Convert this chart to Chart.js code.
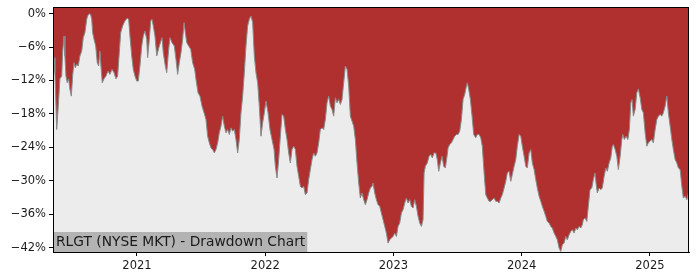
<!DOCTYPE html>
<html>
<head>
<meta charset="utf-8">
<script src="https://cdn.jsdelivr.net/npm/chart.js@4.4.0/dist/chart.umd.min.js"></script>
<style>
  html, body { margin: 0; padding: 0; background: #fff; }
  #wrap { width: 700px; height: 280px; position: relative; }
</style>
</head>
<body>
<div id="wrap"><canvas id="ddChart"></canvas></div>
<script>
// dates as decimal years, drawdown in percent
const dates = [
  2020.353, 2020.360, 2020.374, 2020.386, 2020.399, 2020.413, 2020.420, 2020.431, 2020.438, 2020.446,
  2020.456, 2020.467, 2020.477, 2020.488, 2020.498, 2020.509, 2020.519, 2020.530, 2020.542, 2020.555,
  2020.569, 2020.581, 2020.594, 2020.608, 2020.615, 2020.628, 2020.639, 2020.647, 2020.654, 2020.665,
  2020.678, 2020.690, 2020.701, 2020.711, 2020.719, 2020.729, 2020.743, 2020.758, 2020.774, 2020.789,
  2020.805, 2020.821, 2020.836, 2020.849, 2020.862, 2020.873, 2020.888, 2020.906, 2020.924, 2020.935,
  2020.945, 2020.959, 2020.971, 2020.984, 2020.998, 2021.010, 2021.023, 2021.037, 2021.049, 2021.062,
  2021.076, 2021.083, 2021.094, 2021.107, 2021.117, 2021.127, 2021.140, 2021.154, 2021.174, 2021.195,
  2021.205, 2021.221, 2021.232, 2021.247, 2021.257, 2021.273, 2021.291, 2021.304, 2021.317, 2021.330,
  2021.343, 2021.356, 2021.367, 2021.377, 2021.388, 2021.403, 2021.419, 2021.434, 2021.450, 2021.460,
  2021.476, 2021.491, 2021.507, 2021.523, 2021.538, 2021.551, 2021.564, 2021.577, 2021.590, 2021.603,
  2021.616, 2021.629, 2021.642, 2021.655, 2021.668, 2021.681, 2021.694, 2021.707, 2021.720, 2021.733,
  2021.746, 2021.759, 2021.772, 2021.785, 2021.798, 2021.811, 2021.824, 2021.837, 2021.850, 2021.863,
  2021.876, 2021.889, 2021.902, 2021.915, 2021.928, 2021.941, 2021.954, 2021.967, 2021.980, 2021.993,
  2022.006, 2022.022, 2022.037, 2022.053, 2022.069, 2022.079, 2022.092, 2022.105, 2022.118, 2022.131,
  2022.144, 2022.157, 2022.170, 2022.183, 2022.196, 2022.209, 2022.222, 2022.235, 2022.248, 2022.261,
  2022.274, 2022.287, 2022.300, 2022.313, 2022.326, 2022.339, 2022.352, 2022.365, 2022.378, 2022.391,
  2022.404, 2022.417, 2022.430, 2022.443, 2022.456, 2022.469, 2022.482, 2022.495, 2022.508, 2022.521,
  2022.534, 2022.547, 2022.560, 2022.573, 2022.586, 2022.599, 2022.612, 2022.625, 2022.638, 2022.651,
  2022.664, 2022.677, 2022.690, 2022.703, 2022.716, 2022.729, 2022.742, 2022.755, 2022.768, 2022.781,
  2022.794, 2022.807, 2022.820, 2022.833, 2022.841, 2022.854, 2022.867, 2022.880, 2022.893, 2022.906,
  2022.919, 2022.932, 2022.945, 2022.958, 2022.971, 2022.984, 2022.997, 2023.010, 2023.023, 2023.036,
  2023.049, 2023.062, 2023.075, 2023.088, 2023.101, 2023.114, 2023.127, 2023.140, 2023.153, 2023.166,
  2023.179, 2023.192, 2023.205, 2023.218, 2023.231, 2023.239, 2023.249, 2023.264, 2023.278, 2023.291,
  2023.303, 2023.317, 2023.330, 2023.342, 2023.353, 2023.366, 2023.379, 2023.392, 2023.405, 2023.418,
  2023.426, 2023.439, 2023.452, 2023.465, 2023.478, 2023.491, 2023.504, 2023.517, 2023.530, 2023.543,
  2023.556, 2023.569, 2023.576, 2023.587, 2023.600, 2023.613, 2023.626, 2023.642, 2023.654, 2023.668,
  2023.681, 2023.693, 2023.707, 2023.720, 2023.732, 2023.746, 2023.759, 2023.771, 2023.785, 2023.798,
  2023.810, 2023.824, 2023.837, 2023.849, 2023.863, 2023.876, 2023.888, 2023.902, 2023.915, 2023.927,
  2023.941, 2023.954, 2023.966, 2023.980, 2023.993, 2024.005, 2024.019, 2024.032, 2024.044, 2024.058,
  2024.071, 2024.083, 2024.097, 2024.110, 2024.122, 2024.136, 2024.149, 2024.161, 2024.175, 2024.188,
  2024.200, 2024.214, 2024.227, 2024.239, 2024.253, 2024.266, 2024.278, 2024.292, 2024.305, 2024.317,
  2024.331, 2024.344, 2024.356, 2024.370, 2024.383, 2024.395, 2024.409, 2024.422, 2024.434, 2024.448,
  2024.461, 2024.473, 2024.481, 2024.494, 2024.508, 2024.520, 2024.533, 2024.547, 2024.559, 2024.572,
  2024.580, 2024.590, 2024.604, 2024.617, 2024.629, 2024.643, 2024.656, 2024.668, 2024.682, 2024.695,
  2024.707, 2024.715, 2024.729, 2024.742, 2024.754, 2024.768, 2024.781, 2024.789, 2024.801, 2024.814,
  2024.828, 2024.840, 2024.851, 2024.861, 2024.871, 2024.885, 2024.898, 2024.910, 2024.924, 2024.937,
  2024.949, 2024.963, 2024.976, 2024.988, 2025.002, 2025.015, 2025.027, 2025.041, 2025.054, 2025.066,
  2025.080, 2025.093, 2025.105, 2025.119, 2025.132, 2025.144, 2025.158, 2025.171, 2025.183, 2025.197,
  2025.210, 2025.222, 2025.236, 2025.249, 2025.261, 2025.275, 2025.288, 2025.300
];

const drawdown = [
  -7.9, -10.6, -20.8, -16.6, -11.7, -11.2, -7.0, -4.0, -7.6, -11.2,
  -12.4, -11.7, -13.6, -14.8, -11.2, -8.8, -9.7, -9.1, -9.4, -7.6,
  -6.7, -4.3, -3.4, -1.0, -0.4, 0.0, -0.2, -1.0, -3.4, -4.6,
  -5.8, -8.8, -9.4, -6.7, -9.4, -12.4, -11.7, -11.2, -10.3, -10.9,
  -10.0, -10.6, -11.7, -11.2, -7.0, -3.4, -2.2, -1.3, -0.8, -1.0,
  -4.0, -7.6, -10.0, -11.2, -12.1, -12.1, -9.4, -5.8, -4.0, -3.1,
  -4.6, -7.9, -5.2, -1.3, -1.0, -2.2, -4.0, -7.6, -5.8, -4.3,
  -7.0, -9.4, -10.6, -6.4, -4.3, -5.2, -5.8, -8.2, -10.9, -8.8,
  -7.0, -4.6, -1.6, -3.4, -5.2, -5.8, -6.4, -8.8, -10.0, -11.8,
  -14.2, -14.8, -16.6, -17.8, -19.0, -22.0, -23.2, -24.1, -24.4, -25.0,
  -24.4, -23.2, -21.4, -20.2, -18.4, -20.2, -21.4, -20.8, -21.7, -20.5,
  -21.1, -20.8, -22.6, -25.0, -22.6, -17.8, -14.8, -10.6, -5.8, -2.2,
  -1.0, -0.4, -1.6, -7.6, -10.6, -12.4, -16.6, -22.0, -19.6, -17.8,
  -15.7, -17.8, -20.8, -22.6, -24.4, -27.4, -29.5, -26.2, -22.0, -18.1,
  -18.4, -20.8, -22.6, -25.0, -26.8, -24.4, -23.8, -24.4, -27.4, -29.2,
  -31.0, -31.3, -31.0, -32.5, -32.2, -29.8, -28.0, -26.2, -25.0, -25.6,
  -25.0, -23.2, -20.8, -20.5, -20.8, -19.0, -16.0, -14.8, -16.6, -17.2,
  -18.4, -15.1, -16.0, -15.4, -16.3, -15.4, -12.4, -9.4, -10.0, -13.0,
  -18.4, -19.3, -20.2, -22.6, -26.8, -30.4, -33.1, -32.2, -33.4, -34.3,
  -33.4, -32.2, -31.3, -31.0, -30.4, -32.2, -33.4, -34.3, -34.6, -35.8,
  -37.0, -38.2, -39.4, -41.2, -40.6, -40.3, -40.0, -39.4, -40.0, -38.2,
  -37.6, -35.8, -35.2, -34.0, -33.1, -34.0, -33.4, -34.6, -34.9, -33.4,
  -34.6, -36.4, -37.6, -38.2, -37.0, -28.6, -27.4, -26.8, -25.6, -25.3,
  -25.9, -25.0, -25.0, -26.2, -28.3, -26.8, -25.6, -27.4, -27.7, -25.6,
  -24.1, -23.5, -23.2, -22.6, -22.0, -21.7, -21.7, -21.1, -19.0, -15.4,
  -14.5, -13.0, -12.4, -13.6, -15.4, -18.4, -21.7, -22.3, -21.7, -21.7,
  -22.3, -23.8, -28.6, -32.5, -33.1, -33.7, -33.7, -33.4, -33.1, -33.7,
  -33.7, -34.0, -33.1, -32.5, -31.3, -30.1, -28.6, -28.3, -30.1, -28.9,
  -27.4, -26.2, -23.8, -21.7, -22.0, -23.8, -25.6, -27.4, -27.7, -25.0,
  -24.4, -26.8, -28.0, -29.8, -31.3, -32.8, -33.7, -34.6, -35.5, -36.4,
  -37.3, -37.6, -38.2, -38.5, -39.4, -40.0, -40.6, -42.1, -42.7, -41.5,
  -41.2, -40.0, -40.6, -39.7, -39.1, -38.8, -39.4, -38.5, -38.8, -38.2,
  -38.5, -37.9, -37.0, -36.7, -37.3, -34.6, -31.6, -31.3, -29.8, -28.6,
  -30.4, -32.2, -31.3, -31.6, -31.3, -29.2, -27.7, -28.3, -26.8, -25.9,
  -23.8, -23.5, -24.4, -25.6, -28.0, -25.6, -22.6, -21.7, -22.6, -22.0,
  -22.6, -20.8, -16.0, -15.4, -18.4, -17.2, -14.2, -13.5, -15.1, -17.2,
  -17.8, -21.4, -23.8, -23.2, -22.9, -22.6, -23.2, -20.8, -19.0, -18.4,
  -18.1, -18.4, -17.8, -16.6, -14.8, -17.8, -20.2, -22.6, -24.4, -26.2,
  -26.8, -27.7, -28.0, -31.0, -33.1, -32.8, -33.4, -32.2
];

const yearTicks = [2021, 2022, 2023, 2024, 2025];
const pctTicks = [0, -6, -12, -18, -24, -30, -36, -42];
const chartLabel = 'RLGT (NYSE MKT) - Drawdown Chart';

const points = dates.map((d, i) => ({ x: d, y: drawdown[i] }));

const FONT = 'DejaVu Sans';

// grey plot background, frame and the label box
const decor = {
  id: 'decor',
  beforeDatasetsDraw(chart) {
    const { ctx, chartArea: a } = chart;
    ctx.save();
    ctx.fillStyle = '#ececec';
    ctx.fillRect(a.left, a.top, a.right - a.left, a.bottom - a.top);
    ctx.restore();
  },
  afterDatasetsDraw(chart) {
    const { ctx, chartArea: a } = chart;
    ctx.save();
    ctx.font = '13.8px "' + FONT + '"';
    const w = ctx.measureText(chartLabel).width;
    ctx.fillStyle = '#b3b3b3';
    ctx.fillRect(a.left, a.bottom - 20, w + 5, 20);
    ctx.fillStyle = '#1a1a1a';
    ctx.textBaseline = 'middle';
    ctx.fillText(chartLabel, a.left + 3, a.bottom - 9.5);
    ctx.strokeStyle = '#000';
    ctx.lineWidth = 1;
    ctx.strokeRect(a.left + 0.5, a.top + 0.5, a.right - a.left - 1, a.bottom - a.top);
    ctx.restore();
  }
};

new Chart(document.getElementById('ddChart'), {
  type: 'line',
  data: {
    datasets: [{
      data: points,
      borderColor: '#8a8a8a',
      borderWidth: 1,
      backgroundColor: '#b03030',
      fill: 'end',
      pointRadius: 0,
      tension: 0
    }]
  },
  options: {
    responsive: true,
    maintainAspectRatio: false,
    animation: false,
    layout: { padding: { top: 7, right: 11, left: 0, bottom: 0 } },
    plugins: { legend: { display: false }, tooltip: { enabled: false } },
    scales: {
      x: {
        type: 'linear',
        min: 2020.345,
        max: 2025.305,
        afterBuildTicks: s => { s.ticks = yearTicks.map(v => ({ value: v })); },
        afterFit: s => { s.height = 28; s.paddingLeft = 0; s.paddingRight = 0; },
        ticks: {
          color: '#1a1a1a',
          font: { family: FONT, size: 11.5 },
          padding: 3,
          maxRotation: 0,
          callback: v => String(v)
        },
        grid: { display: true, drawOnChartArea: false, tickLength: 4, color: '#000' },
        border: { display: true, color: '#000' }
      },
      y: {
        min: -42.8,
        max: 1.2,
        afterBuildTicks: s => { s.ticks = pctTicks.map(v => ({ value: v })); },
        afterFit: s => { s.width = 53; s.paddingTop = 0; s.paddingBottom = 0; },
        ticks: {
          color: '#1a1a1a',
          font: { family: FONT, size: 11.5 },
          padding: 3,
          callback: v => (v < 0 ? '\u2212' + Math.abs(v) : v) + '%'
        },
        grid: { display: true, drawOnChartArea: false, tickLength: 4, color: '#000' },
        border: { display: true, color: '#000' }
      }
    }
  },
  plugins: [decor]
});
</script>
</body>
</html>
